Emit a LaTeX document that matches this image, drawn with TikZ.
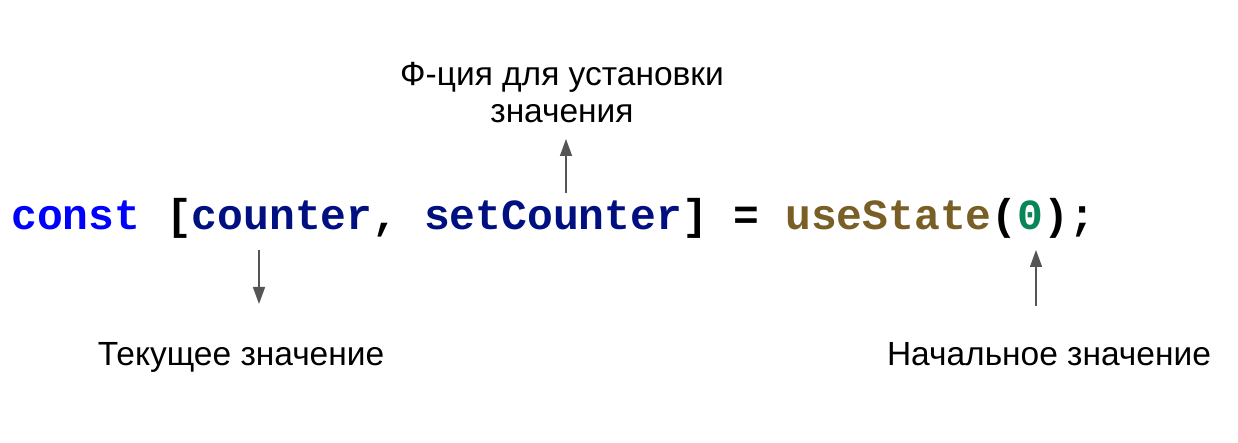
\documentclass[tikz,border=0pt]{standalone}
\usepackage{fontspec}
\setmainfont{Liberation Sans}
\newfontfamily\codefont{Liberation Mono}
\usetikzlibrary{arrows.meta}
\definecolor{kw}{HTML}{0000FF}
\definecolor{var}{HTML}{001080}
\definecolor{fn}{HTML}{795E26}
\definecolor{num}{HTML}{098658}
\definecolor{arr}{HTML}{555555}
\tikzset{
  code/.style={inner sep=0pt, font=\codefont\bfseries\fontsize{43}{50}\selectfont},
  lbl/.style={inner sep=0pt, font=\fontsize{33.5}{37}\selectfont, text=black, align=center},
  pointer/.style={draw=arr, line width=1.6pt, -{Triangle[length=17pt,width=12pt]}}
}
\begin{document}
\begin{tikzpicture}[x=1pt,y=-1pt]
\useasboundingbox[fill=white] (0,0) rectangle (1238,443);
\node[code, anchor=base west] (code) at (11,230)
  {\textcolor{kw}{const} [\textcolor{var}{counter}, \textcolor{var}{setCounter}] = \textcolor{fn}{useState}(\textcolor{num}{0});};
\node[lbl, anchor=base] (setter) at (562,123) {Ф-ция для установки\\значения};
\node[lbl, anchor=base] (current) at (241,365) {Текущее значение};
\node[lbl, anchor=base] (initial) at (1049,365) {Начальное значение};
\coordinate (a1s) at (566,193);
\coordinate (a1e) at (566,139);
\coordinate (a2s) at (259,250);
\coordinate (a2e) at (259,304);
\coordinate (a3s) at (1036,306);
\coordinate (a3e) at (1036,250);
\draw[pointer] (a1s) -- (a1e);
\draw[pointer] (a2s) -- (a2e);
\draw[pointer] (a3s) -- (a3e);
\end{tikzpicture}
\end{document}
